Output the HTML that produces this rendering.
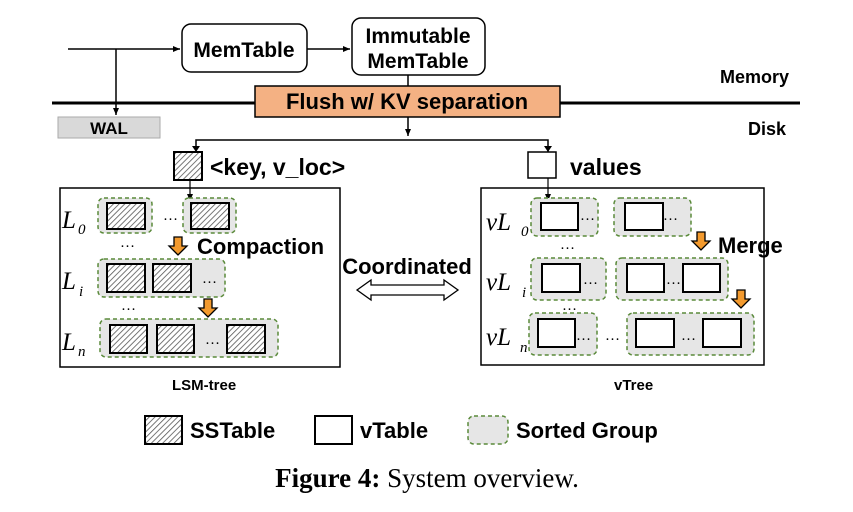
<!DOCTYPE html>
<html><head><meta charset="utf-8"><style>
body{margin:0;background:#fff}
svg{display:block}
.b{font-family:"Liberation Sans",Arial,sans-serif;font-weight:bold}
.L{font-family:"Liberation Serif",serif;font-style:italic;font-size:25px}
.s{font-family:"Liberation Serif",serif;font-style:italic;font-size:15px}
</style></head><body>
<svg width="853" height="512" viewBox="0 0 853 512" xmlns="http://www.w3.org/2000/svg">
<defs>
<pattern id="h" width="4" height="4" patternUnits="userSpaceOnUse" patternTransform="rotate(45)">
<rect width="4" height="4" fill="#fff"/><line x1="0" y1="0" x2="0" y2="4" stroke="#555" stroke-width="1.6"/></pattern>
<marker id="a" markerWidth="8" markerHeight="8" refX="7" refY="4" orient="auto" markerUnits="userSpaceOnUse"><path d="M0,1 L7,4 L0,7z" fill="#000"/></marker>
<g id="oa"><path d="M-4,0 h8 v9 h5 l-9,9 l-9,-9 h5z" fill="#f39a2e" stroke="#000" stroke-width="1.3"/></g>
</defs>
<line x1="68" y1="49" x2="180" y2="49" stroke="#000" stroke-width="1.5" marker-end="url(#a)"/>
<line x1="116" y1="49" x2="116" y2="115" stroke="#000" stroke-width="1.5" marker-end="url(#a)"/>
<rect x="182" y="24" width="125" height="48" rx="9" fill="#fff" stroke="#000" stroke-width="1.5"/>
<text x="244" y="57" class="b" font-size="21" text-anchor="middle">MemTable</text>
<line x1="307" y1="49" x2="350" y2="49" stroke="#000" stroke-width="1.5" marker-end="url(#a)"/>
<rect x="352" y="18" width="133" height="57" rx="9" fill="#fff" stroke="#000" stroke-width="1.5"/>
<text x="418" y="43" class="b" font-size="21" text-anchor="middle">Immutable</text>
<text x="418" y="68" class="b" font-size="21" text-anchor="middle">MemTable</text>
<line x1="408" y1="75" x2="408" y2="86" stroke="#000" stroke-width="1.5"/>
<line x1="52" y1="103" x2="800" y2="103" stroke="#000" stroke-width="3"/>
<rect x="255" y="86" width="305" height="31" fill="#f4b183" stroke="#000" stroke-width="1.5"/>
<text x="407" y="109" class="b" font-size="22" text-anchor="middle">Flush w/ KV separation</text>
<text x="720" y="83" class="b" font-size="18">Memory</text>
<text x="748" y="135" class="b" font-size="18">Disk</text>
<rect x="58" y="117" width="102" height="21" fill="#d9d9d9" stroke="#aaa"/>
<text x="109" y="134" class="b" font-size="17" text-anchor="middle">WAL</text>
<line x1="408" y1="117" x2="408" y2="136" stroke="#000" stroke-width="1.5" marker-end="url(#a)"/>
<polyline points="196,152 196,140 548,140 548,152" fill="none" stroke="#000" stroke-width="1.5"/>
<path d="M192,146 l4,6 l4,-6z M544,146 l4,6 l4,-6z" fill="#000"/>
<rect x="174" y="152" width="28" height="28" fill="url(#h)" stroke="#000" stroke-width="2"/>
<text x="210" y="175" class="b" font-size="23">&lt;key, v_loc&gt;</text>
<rect x="528" y="152" width="28" height="26" fill="#fff" stroke="#000" stroke-width="1.5"/>
<text x="570" y="175" class="b" font-size="23">values</text>
<line x1="190" y1="180" x2="190" y2="201" stroke="#000" stroke-width="1.2" marker-end="url(#a)"/>
<line x1="548" y1="178" x2="548" y2="201" stroke="#000" stroke-width="1.2" marker-end="url(#a)"/>
<rect x="60" y="188" width="280" height="179" fill="none" stroke="#000" stroke-width="1.5"/>
<g fill="#e6e6e6" stroke="#5a8a3a" stroke-width="1.5" stroke-dasharray="4,3">
<rect x="98" y="198" width="54" height="35" rx="6"/><rect x="183" y="198" width="53" height="35" rx="6"/>
<rect x="98" y="259" width="127" height="38" rx="6"/><rect x="100" y="319" width="178" height="38" rx="6"/>
<rect x="531" y="198" width="67" height="38" rx="6"/><rect x="614" y="198" width="77" height="38" rx="6"/>
<rect x="531" y="258" width="75" height="42" rx="6"/><rect x="616" y="258" width="112" height="42" rx="6"/>
<rect x="529" y="313" width="68" height="42" rx="6"/><rect x="627" y="313" width="127" height="42" rx="6"/>
<rect x="468" y="416" width="40" height="28" rx="6"/>
</g>
<g fill="url(#h)" stroke="#000" stroke-width="2">
<rect x="107" y="203" width="38" height="26"/><rect x="191" y="203" width="38" height="26"/>
<rect x="107" y="264" width="38" height="28"/><rect x="153" y="264" width="38" height="28"/>
<rect x="110" y="325" width="37" height="28"/><rect x="157" y="325" width="37" height="28"/><rect x="227" y="325" width="38" height="28"/>
<rect x="145" y="416" width="37" height="28"/>
</g>
<g fill="#fff" stroke="#000" stroke-width="2">
<rect x="541" y="203" width="37" height="27"/><rect x="625" y="203" width="38" height="27"/>
<rect x="542" y="264" width="38" height="28"/><rect x="627" y="264" width="37" height="28"/><rect x="683" y="264" width="37" height="28"/>
<rect x="538" y="319" width="37" height="28"/><rect x="636" y="319" width="38" height="28"/><rect x="703" y="319" width="38" height="28"/>
<rect x="315" y="416" width="37" height="28"/>
</g>
<g font-family="Liberation Serif,serif" font-size="15">
<text x="163" y="220">…</text><text x="120" y="247">…</text><text x="202" y="283">…</text><text x="121" y="310">…</text><text x="205" y="344">…</text>
<text x="580" y="220">…</text><text x="663" y="220">…</text><text x="560" y="249">…</text><text x="583" y="284">…</text><text x="666" y="284">…</text><text x="562" y="310">…</text><text x="576" y="340">…</text><text x="605" y="340">…</text><text x="681" y="340">…</text>
</g>
<text x="62" y="228" class="L">L</text><text x="78" y="234" class="s">0</text>
<text x="62" y="289" class="L">L</text><text x="79" y="296" class="s">i</text>
<text x="62" y="350" class="L">L</text><text x="78" y="356" class="s">n</text>
<use href="#oa" x="178" y="237"/><use href="#oa" x="208" y="299"/>
<text x="197" y="254" class="b" font-size="22">Compaction</text>
<rect x="481" y="188" width="283" height="177" fill="none" stroke="#000" stroke-width="1.5"/>
<text x="486" y="230" class="L">vL</text><text x="521" y="236" class="s">0</text>
<text x="486" y="290" class="L">vL</text><text x="522" y="297" class="s">i</text>
<text x="486" y="345" class="L">vL</text><text x="520" y="352" class="s">n</text>
<use href="#oa" x="701" y="232"/><use href="#oa" x="741" y="290"/>
<text x="718" y="253" class="b" font-size="22">Merge</text>
<text x="407" y="274" class="b" font-size="22" text-anchor="middle">Coordinated</text>
<path d="M357,290 l14,-10 v5 h73 v-5 l14,10 l-14,10 v-5 h-73 v5z" fill="#fff" stroke="#000" stroke-width="1.3"/>
<text x="172" y="390" class="b" font-size="15">LSM-tree</text>
<text x="614" y="390" class="b" font-size="15">vTree</text>
<text x="190" y="438" class="b" font-size="22">SSTable</text>
<text x="360" y="438" class="b" font-size="22">vTable</text>
<text x="516" y="438" class="b" font-size="22">Sorted Group</text>
<text x="427" y="487" font-family="Liberation Serif,serif" font-size="27" text-anchor="middle"><tspan font-weight="bold">Figure 4:</tspan> System overview.</text>
</svg>
</body></html>
